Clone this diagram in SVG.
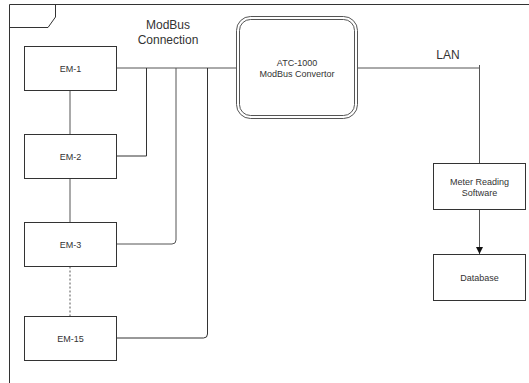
<svg xmlns="http://www.w3.org/2000/svg" width="529" height="383" viewBox="0 0 529 383">
<style>
  .box { fill: #ffffff; stroke: #333333; stroke-width: 1; }
  .dbl { fill: #ffffff; stroke: #555555; stroke-width: 1; }
  .t { font-family: "Liberation Sans", Arial, Helvetica, sans-serif; font-size: 9px; fill: #333333; text-anchor: middle; }
  .lbl { font-family: "Liberation Sans", Arial, Helvetica, sans-serif; font-size: 12px; fill: #333333; text-anchor: middle; }
  .c { fill: none; stroke: #333333; stroke-width: 1; }
  .cg { fill: none; stroke: #555555; stroke-width: 1; }
  .dash { fill: none; stroke: #555555; stroke-width: 1; stroke-dasharray: 2 2; }
  .frame { fill: none; stroke: #333333; stroke-width: 1; }
</style>
<defs>
  <marker id="arr" markerWidth="8" markerHeight="8" refX="7" refY="4" orient="auto" markerUnits="userSpaceOnUse">
    <path d="M0,0.5 L7,4 L0,7.5 Z" fill="#111111"/>
  </marker>
</defs>
<rect width="529" height="383" fill="#ffffff"/>
<g id="frame">
  <path class="frame" d="M9.5,383 V4.5 H529"/>
  <path class="frame" d="M9.5,27.5 H48 L55.5,17 V4.5"/>
</g>
<g id="connectors">
  <path class="cg" d="M116.5,68 H236.5"/>
  <path class="c" d="M146.5,68 V156 H116.5"/>
  <path class="cg" d="M176,68 V240 Q176,244 172,244 H116.5"/>
  <path class="c" d="M207.5,68 V334 Q207.5,338 203.5,338 H116.5"/>
  <path class="cg" d="M70,90.5 V134.5"/>
  <path class="cg" d="M70,178.5 V222.5"/>
  <path class="dash" d="M70,266.5 V316.5"/>
  <path class="cg" d="M357.5,68 H479.5"/>
  <path class="cg" d="M479.5,65 V163.5"/>
  <path class="cg" d="M479.5,209.5 V254" marker-end="url(#arr)"/>
  <text class="lbl" x="168" y="29">ModBus</text>
  <text class="lbl" x="168" y="44">Connection</text>
  <text class="lbl" x="448" y="59">LAN</text>
</g>
<g id="em1">
  <rect class="box" x="24.5" y="46.5" width="92" height="44"/>
  <text class="t" x="70.5" y="71.5">EM-1</text>
</g>
<g id="em2">
  <rect class="box" x="24.5" y="134.5" width="92" height="44"/>
  <text class="t" x="70.5" y="159.5">EM-2</text>
</g>
<g id="em3">
  <rect class="box" x="24.5" y="222.5" width="92" height="44"/>
  <text class="t" x="70.5" y="247.5">EM-3</text>
</g>
<g id="em15">
  <rect class="box" x="24.5" y="316.5" width="92" height="44"/>
  <text class="t" x="70.5" y="341.5">EM-15</text>
</g>
<g id="atc">
  <rect class="dbl" x="236.5" y="16.5" width="121" height="102" rx="14"/>
  <rect class="dbl" x="239.5" y="19.5" width="115" height="96" rx="11"/>
  <text class="t" x="297" y="66">ATC-1000</text>
  <text class="t" x="297" y="77">ModBus Convertor</text>
</g>
<g id="meter">
  <rect class="box" x="433.5" y="163.5" width="92" height="46"/>
  <text class="t" x="479.5" y="185">Meter Reading</text>
  <text class="t" x="479.5" y="196">Software</text>
</g>
<g id="database">
  <rect class="box" x="433.5" y="254.5" width="92" height="46"/>
  <text class="t" x="479.5" y="280.5">Database</text>
</g>
</svg>
